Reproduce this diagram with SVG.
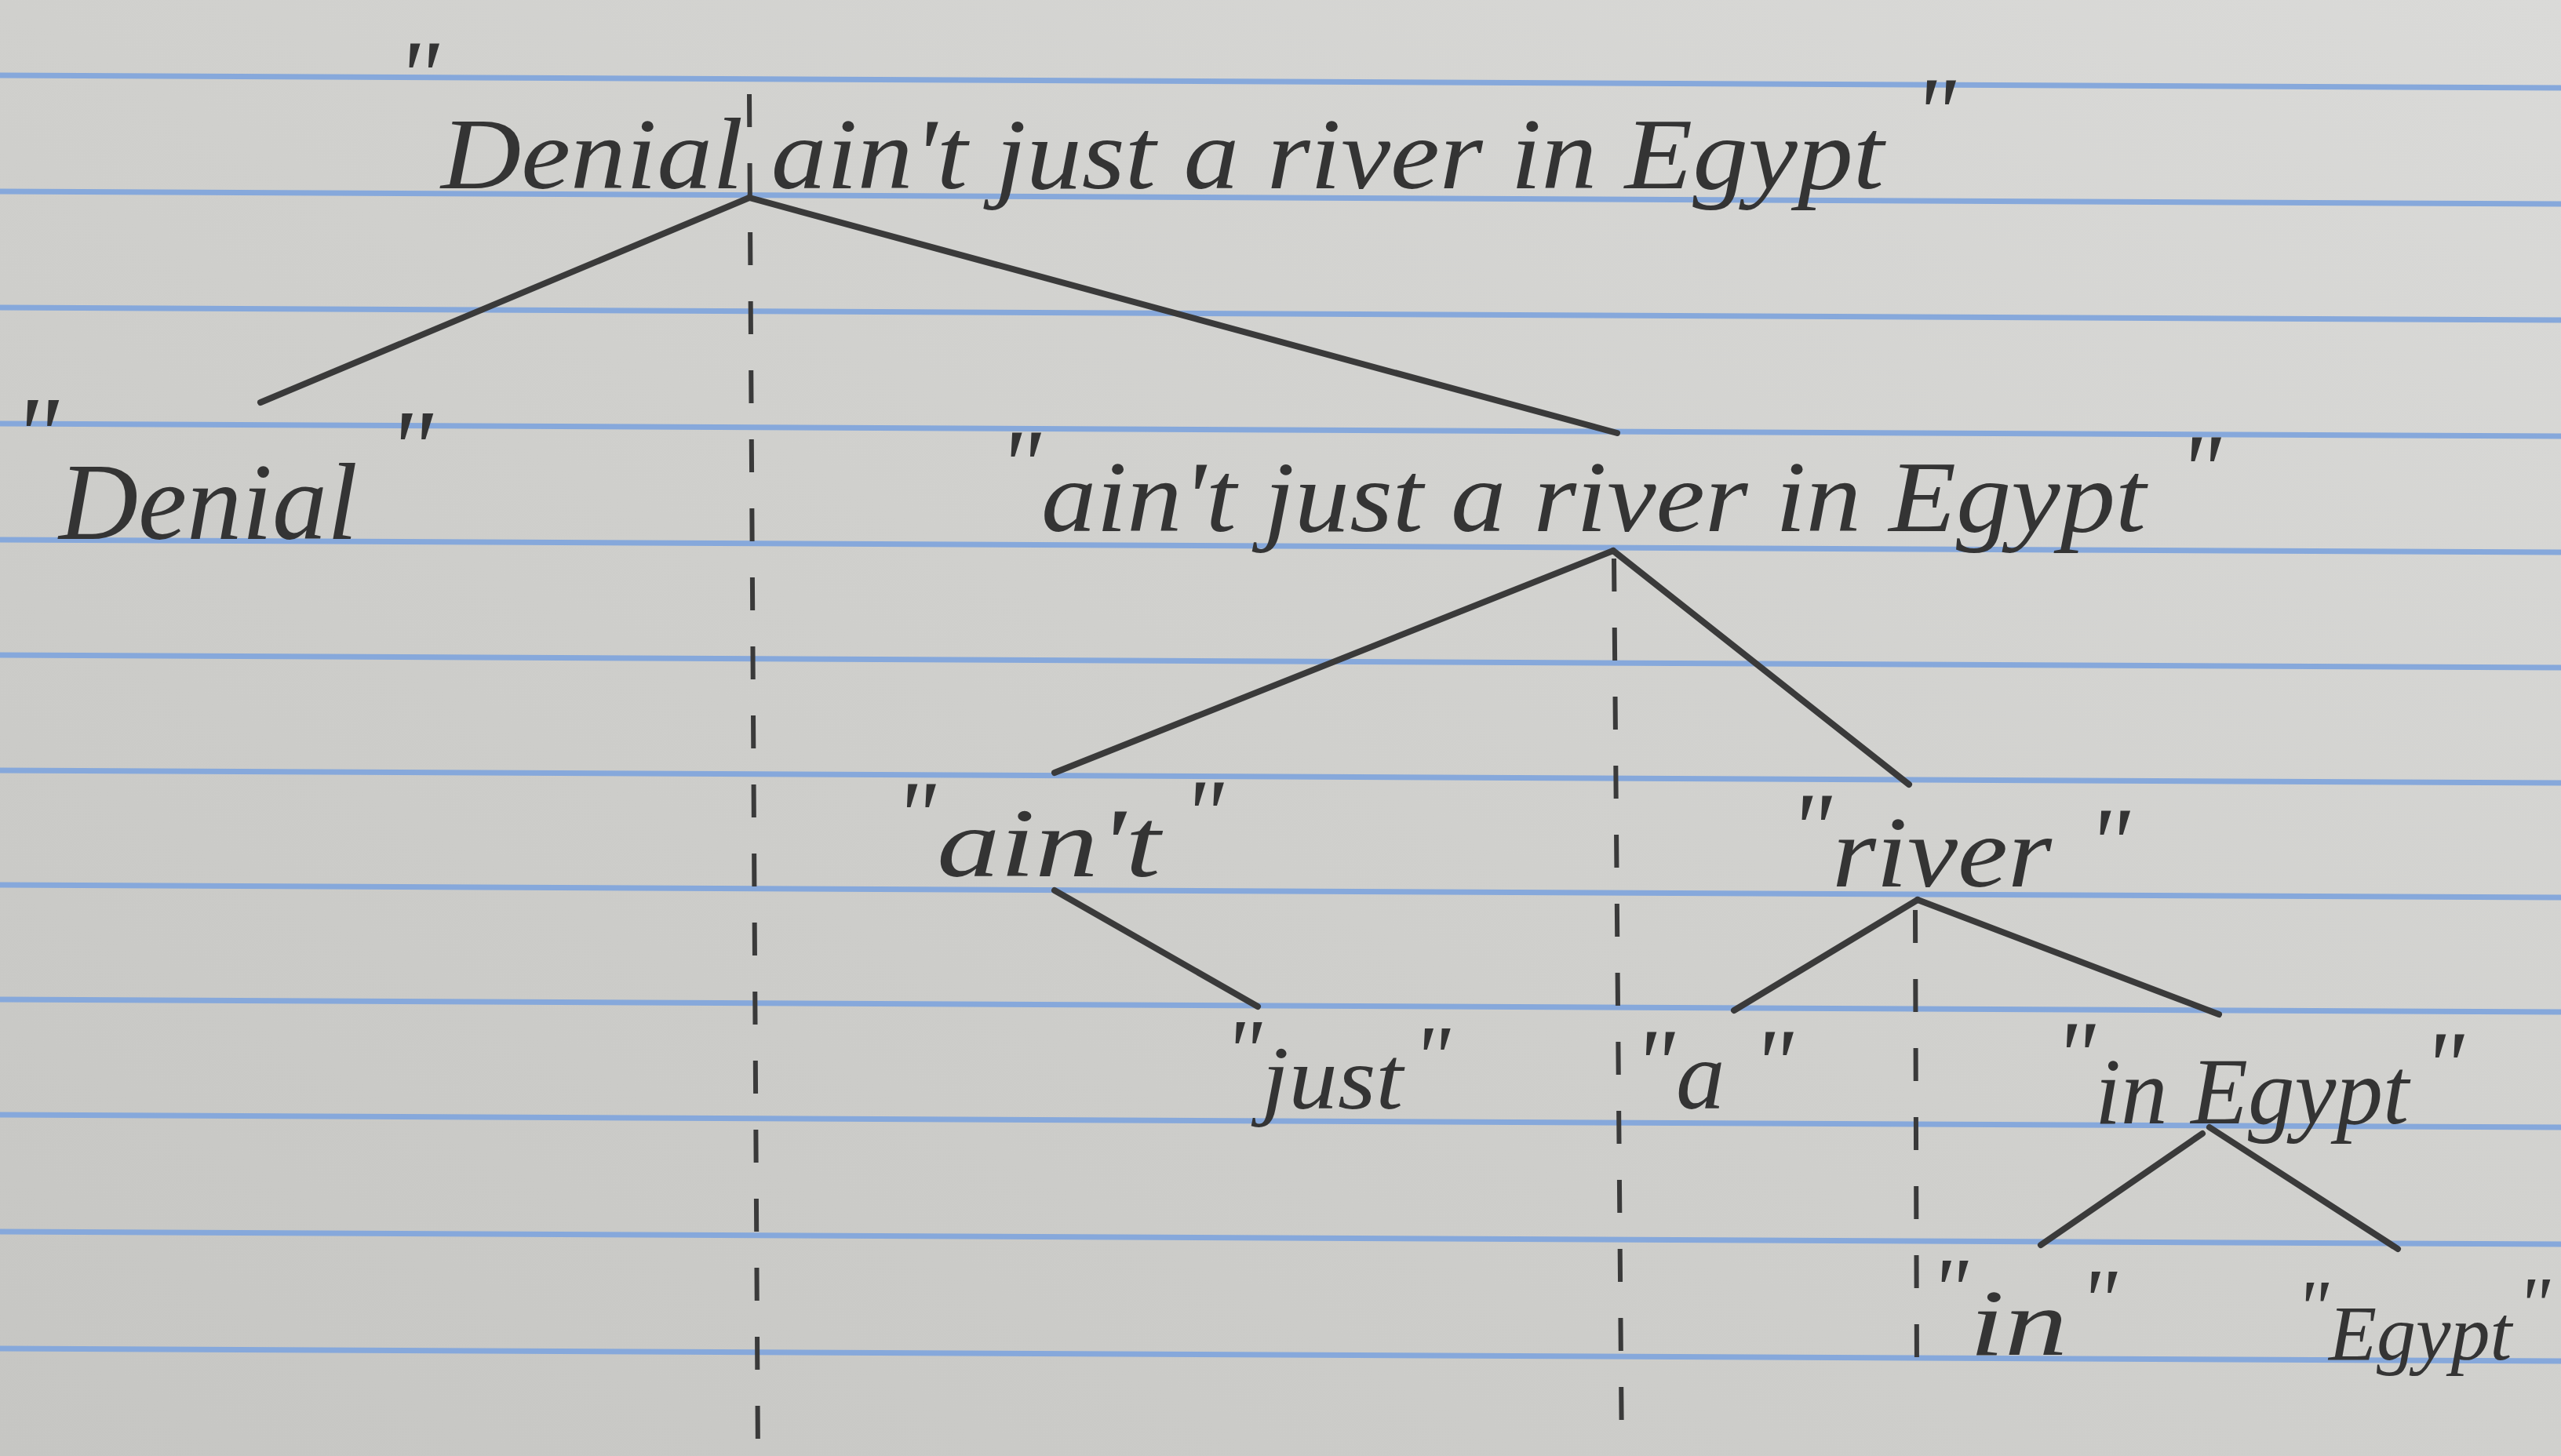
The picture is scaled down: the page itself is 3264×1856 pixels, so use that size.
<svg xmlns="http://www.w3.org/2000/svg" width="3264" height="1856" viewBox="0 0 3264 1856">
<defs>
<linearGradient id="paper" x1="1" y1="0" x2="0" y2="1">
<stop offset="0" stop-color="#dadad8"/>
<stop offset="0.5" stop-color="#d0d0cd"/>
<stop offset="1" stop-color="#c6c6c3"/>
</linearGradient>
<style>
.rule{stroke:#86a8db;stroke-width:7;fill:none}
.edge{stroke:#3a3a3a;stroke-width:8;stroke-linecap:round;fill:none}
.dash{stroke:#3a3a3a;stroke-width:6;stroke-dasharray:42 46;fill:none}
.w{font-family:"Liberation Serif","DejaVu Serif",serif;font-style:italic;fill:#343434}
.q{font-family:"Liberation Serif","DejaVu Serif",serif;font-style:italic;fill:#343434}
</style>
</defs>
<rect width="3264" height="1856" fill="url(#paper)"/>
<g id="paper-lines">
<line class="rule" x1="0" y1="96" x2="3264" y2="112"/>
<line class="rule" x1="0" y1="244" x2="3264" y2="260"/>
<line class="rule" x1="0" y1="392" x2="3264" y2="408"/>
<line class="rule" x1="0" y1="540" x2="3264" y2="556"/>
<line class="rule" x1="0" y1="688" x2="3264" y2="704"/>
<line class="rule" x1="0" y1="835" x2="3264" y2="851"/>
<line class="rule" x1="0" y1="982" x2="3264" y2="998"/>
<line class="rule" x1="0" y1="1128" x2="3264" y2="1144"/>
<line class="rule" x1="0" y1="1274" x2="3264" y2="1290"/>
<line class="rule" x1="0" y1="1421" x2="3264" y2="1437"/>
<line class="rule" x1="0" y1="1570" x2="3264" y2="1586"/>
<line class="rule" x1="0" y1="1719" x2="3264" y2="1735"/>
</g>
<g id="connectors">
<line class="dash" x1="955" y1="120" x2="966" y2="1856"/>
<line class="dash" x1="2057" y1="712" x2="2067" y2="1856"/>
<line class="dash" x1="2441" y1="1160" x2="2443" y2="1748"/>
<line class="edge" x1="955" y1="252" x2="332" y2="513"/>
<line class="edge" x1="955" y1="252" x2="2061" y2="552"/>
<line class="edge" x1="2056" y1="702" x2="1344" y2="985"/>
<line class="edge" x1="2056" y1="702" x2="2433" y2="1000"/>
<line class="edge" x1="1344" y1="1135" x2="1603" y2="1283"/>
<line class="edge" x1="2444" y1="1147" x2="2210" y2="1288"/>
<line class="edge" x1="2444" y1="1147" x2="2828" y2="1293"/>
<line class="edge" x1="2807" y1="1445" x2="2601" y2="1587"/>
<line class="edge" x1="2816" y1="1437" x2="3056" y2="1592"/>
</g>
<g id="node-root">
<text class="q" x="505" y="140" font-size="130">"</text>
<text class="w" x="562" y="240" font-size="130" textLength="1839" lengthAdjust="spacingAndGlyphs">Denial ain't just a river in Egypt</text>
<text class="q" x="2438" y="187" font-size="130">"</text>
</g>
<g id="node-denial">
<text class="q" x="16" y="602" font-size="140">"</text>
<text class="w" x="75" y="687" font-size="140" textLength="381" lengthAdjust="spacingAndGlyphs">Denial</text>
<text class="q" x="493" y="619" font-size="140">"</text>
</g>
<g id="node-rest">
<text class="q" x="1272" y="636" font-size="130">"</text>
<text class="w" x="1327" y="677" font-size="130" textLength="1408" lengthAdjust="spacingAndGlyphs">ain't just a river in Egypt</text>
<text class="q" x="2776" y="642" font-size="130">"</text>
</g>
<g id="node-aint">
<text class="q" x="1140" y="1082" font-size="125">"</text>
<text class="w" x="1194" y="1117" font-size="125" textLength="285" lengthAdjust="spacingAndGlyphs">ain't</text>
<text class="q" x="1507" y="1080" font-size="125">"</text>
</g>
<g id="node-river">
<text class="q" x="2280" y="1099" font-size="130">"</text>
<text class="w" x="2335" y="1130" font-size="130" textLength="280" lengthAdjust="spacingAndGlyphs">river</text>
<text class="q" x="2660" y="1118" font-size="130">"</text>
</g>
<g id="node-just">
<text class="q" x="1560" y="1378" font-size="115">"</text>
<text class="w" x="1608" y="1413" font-size="115" textLength="180" lengthAdjust="spacingAndGlyphs">just</text>
<text class="q" x="1800" y="1386" font-size="115">"</text>
</g>
<g id="node-a">
<text class="q" x="2082" y="1398" font-size="125">"</text>
<text class="w" x="2136" y="1413" font-size="125">a</text>
<text class="q" x="2233" y="1398" font-size="125">"</text>
</g>
<g id="node-inegypt">
<text class="q" x="2618" y="1388" font-size="125">"</text>
<text class="w" x="2670" y="1432" font-size="120" textLength="400" lengthAdjust="spacingAndGlyphs">in Egypt</text>
<text class="q" x="3088" y="1401" font-size="125">"</text>
</g>
<g id="node-in">
<text class="q" x="2460" y="1682" font-size="115">"</text>
<text class="w" x="2510" y="1727" font-size="120" textLength="125" lengthAdjust="spacingAndGlyphs">in</text>
<text class="q" x="2650" y="1696" font-size="115">"</text>
</g>
<g id="node-egypt">
<text class="q" x="2926" y="1700" font-size="100">"</text>
<text class="w" x="2968" y="1733" font-size="100">Egypt</text>
<text class="q" x="3208" y="1696" font-size="100">"</text>
</g>
</svg>
